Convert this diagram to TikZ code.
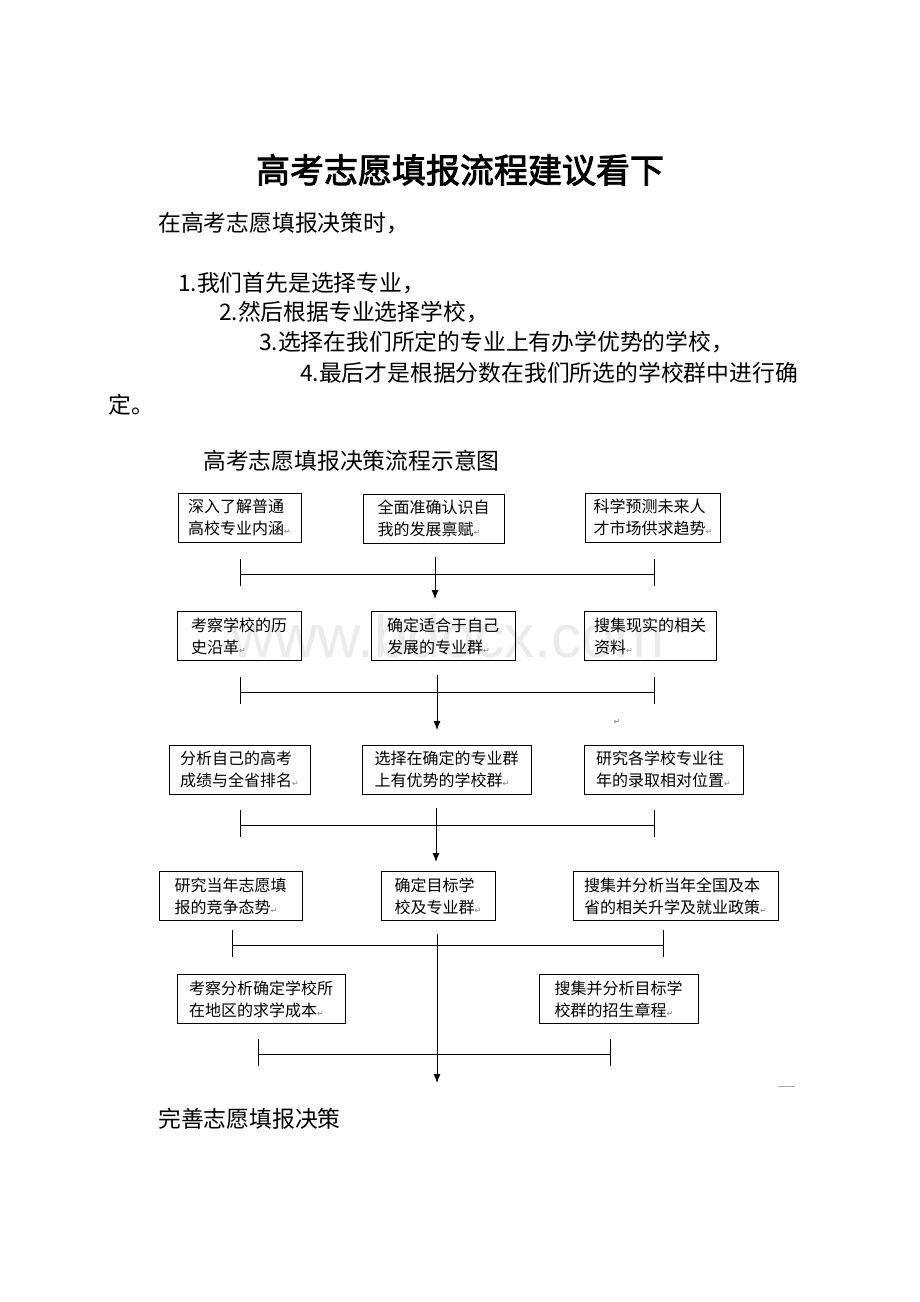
\documentclass[tikz,border=0pt]{standalone}
\usepackage{fontspec}
\setmainfont{Noto Sans CJK SC}
\newfontfamily\cjktitle[FakeBold=2.5]{Noto Sans CJK SC}
\newfontfamily\symfont{DejaVu Sans}
\newfontfamily\markfont{Liberation Sans}
\usetikzlibrary{arrows.meta}
\newcommand{\ret}{{\symfont\fontsize{8}{8}\selectfont\color{gray}↵}}

\begin{document}
\begin{tikzpicture}[
    x=1pt, y=-1pt,
    flowbox/.style={draw, line width=0.9pt, align=left, minimum height=49pt,
        inner xsep=8pt, font=\fontsize{16}{22}\selectfont},
    body/.style={anchor=west, inner sep=0pt, font=\fontsize{22.8}{26}\selectfont},
    bar/.style={line width=0.9pt},
    arrow/.style={line width=0.9pt, -{Latex[length=9pt,width=7pt]}}
]
\useasboundingbox[fill=white] (0,0) rectangle (920,1302);

% Heading and introduction
\node[font=\cjktitle\fontsize{34}{40}\selectfont] (title) at (460,170) {高考志愿填报流程建议看下};
\node[body] (intro) at (158,223) {在高考志愿填报决策时，};
\node[body] (p1) at (178,283) {1.我们首先是选择专业，};
\node[body] (p2) at (219,312) {2.然后根据专业选择学校，};
\node[body] (p3) at (259,342) {3.选择在我们所定的专业上有办学优势的学校，};
\node[body] (p4) at (300,373) {4.最后才是根据分数在我们所选的学校群中进行确};
\node[body] (p4b) at (108,405) {定。};
\node[body] (caption) at (203,461) {高考志愿填报决策流程示意图};

% Watermark
\node[font=\markfont\fontsize{60}{60}\selectfont, text=gray!16] (wm) at (448,636) {www.bdocx.com};

% Row 1
\node[flowbox, minimum width=123pt] (a1) at (239.5,517.5) {深入了解普通\\高校专业内涵\ret};
\node[flowbox, minimum width=141pt] (a2) at (433.5,518.5) {全面准确认识自\\我的发展禀赋\ret};
\node[flowbox, minimum width=132pt] (a3) at (653,517.5) {科学预测未来人\\才市场供求趋势\ret};

% Row 2
\node[flowbox, minimum width=124pt] (b1) at (239,636) {考察学校的历\\史沿革\ret};
\node[flowbox, minimum width=144pt] (b2) at (443,636) {确定适合于自己\\发展的专业群\ret};
\node[flowbox, minimum width=132pt] (b3) at (650,636) {搜集现实的相关\\资料\ret};
\node (b4) at (617,722) {\ret};

% Row 3
\node[flowbox, minimum width=141pt] (c1) at (239.5,769.5) {分析自己的高考\\成绩与全省排名\ret};
\node[flowbox, minimum width=169pt] (c2) at (446.5,769.5) {选择在确定的专业群\\上有优势的学校群\ret};
\node[flowbox, minimum width=159pt] (c3) at (663.5,769.5) {研究各学校专业往\\年的录取相对位置\ret};

% Row 4
\node[flowbox, minimum width=143pt] (d1) at (230.5,896) {研究当年志愿填\\报的竞争态势\ret};
\node[flowbox, minimum width=114pt] (d2) at (438,896) {确定目标学\\校及专业群\ret};
\node[flowbox, minimum width=205pt] (d3) at (675.5,896) {搜集并分析当年全国及本\\省的相关升学及就业政策\ret};

% Row 5
\node[flowbox, minimum width=168pt] (e1) at (261,999) {考察分析确定学校所\\在地区的求学成本\ret};
\node[flowbox, minimum width=159pt] (e2) at (618.5,999) {搜集并分析目标学\\校群的招生章程\ret};

% Result
\node[body] (result) at (158,1119) {完善志愿填报决策};

% Brackets under each row
\foreach \n/\l/\r/\y in {1/240/654/574, 2/240/654/692, 3/240/654/825, 4/232/663/945, 5/258/610/1054} {
    \coordinate (l\n) at (\l,\y);
    \coordinate (r\n) at (\r,\y);
    \draw[bar] (l\n) -- (r\n);
    \draw[bar] ([yshift=15pt]l\n) -- ([yshift=-12pt]l\n);
    \draw[bar] ([yshift=15pt]r\n) -- ([yshift=-12pt]r\n);
}

% Arrows down the middle
\coordinate (s1) at (435,557);  \coordinate (t1) at (435,599);
\coordinate (s2) at (437,675);  \coordinate (t2) at (437,730);
\coordinate (s3) at (436,808);  \coordinate (t3) at (436,862);
\coordinate (s4) at (437,934);  \coordinate (t4) at (437,1083);
\draw[arrow] (s1) -- (t1);
\draw[arrow] (s2) -- (t2);
\draw[arrow] (s3) -- (t3);
\draw[arrow] (s4) -- (t4);

% Stray rule at the lower right
\coordinate (m1) at (778,1086);
\coordinate (m2) at (795,1086);
\draw[gray!70, line width=0.8pt] (m1) -- (m2);

\end{tikzpicture}
\end{document}
